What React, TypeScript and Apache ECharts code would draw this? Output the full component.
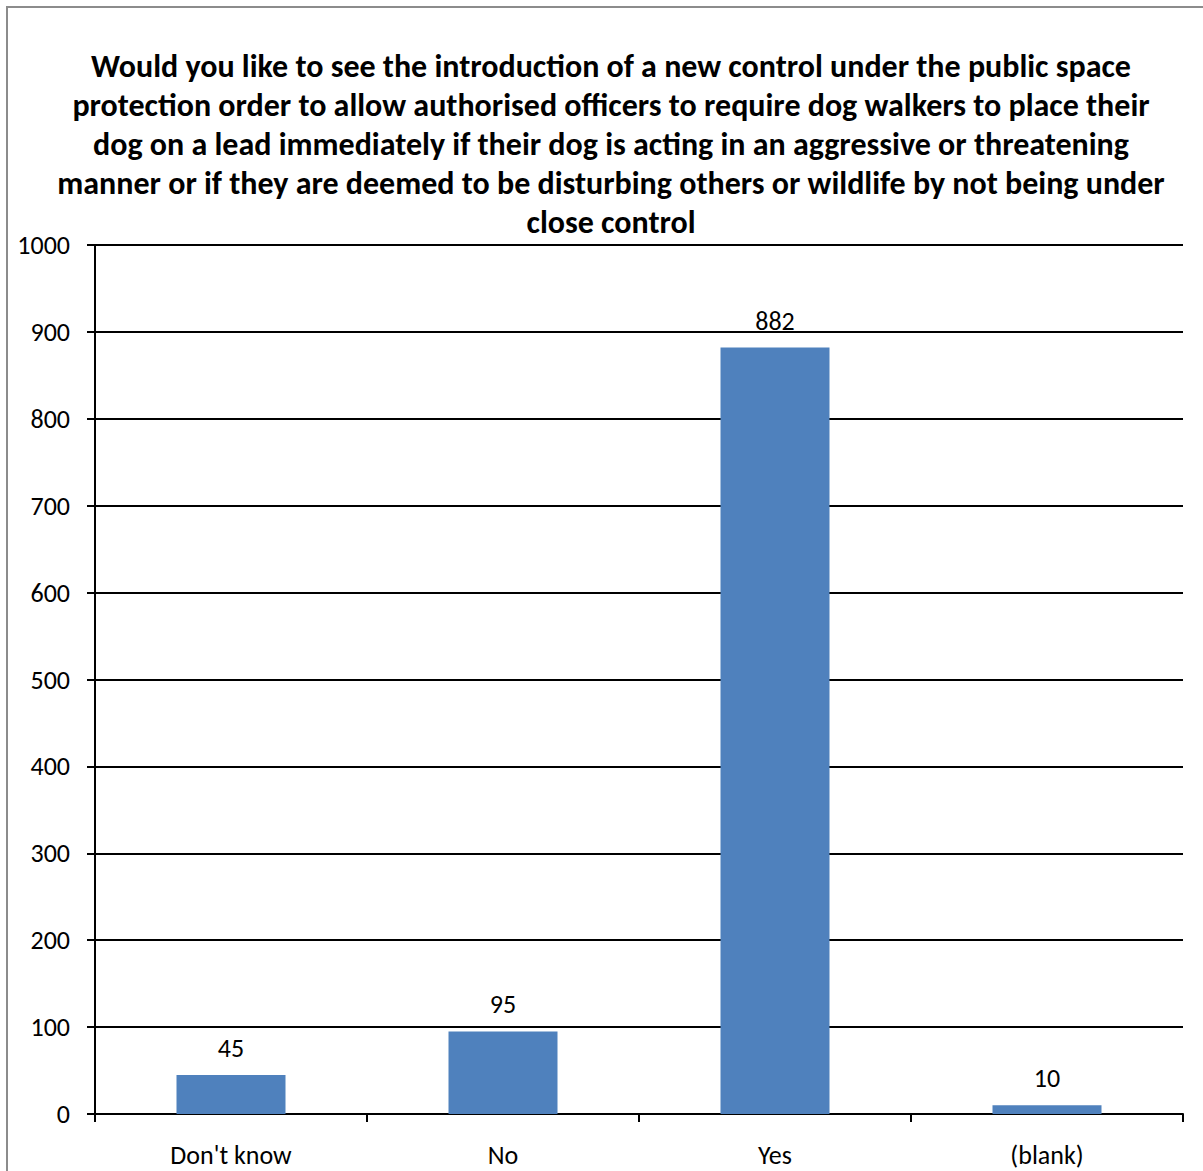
import React, { useEffect, useRef } from "react";
import * as echarts from "echarts";

const categories = ["Don't know", "No", "Yes", "(blank)"];
const values = [45, 95, 882, 10];
const yTicks = { min: 0, max: 1000, interval: 100 };
const titleLines = [
  "Would you like to see the introduction of a new control under the public space",
  "protection order to allow authorised officers to require dog walkers to place their",
  "dog on a lead immediately if their dog is acting in an aggressive or threatening",
  "manner or if they are deemed to be disturbing others or wildlife by not being under",
  "close control",
];

export default function App() {
  const ref = useRef<HTMLDivElement>(null);
  useEffect(() => {
    if (!ref.current) return;
    const chart = echarts.init(ref.current, undefined, { renderer: "svg" });
    const font = "Carlito, 'Open Sans', 'Noto Sans', sans-serif";
    chart.setOption({
      animation: false,
      backgroundColor: "#ffffff",
      textStyle: { fontFamily: font },
      title: {
        text: titleLines.join("\n"),
        left: 611,
        textAlign: "center",
        top: 47,
        padding: 0,
        textStyle: {
          fontFamily: font,
          fontWeight: "bold",
          fontSize: 32,
          lineHeight: 39,
          color: "#000000",
        },
      },
      graphic: [
        {
          type: "rect",
          shape: { x: 7, y: 7, width: 1220, height: 1200 },
          style: { fill: "none", stroke: "#8c8c8c", lineWidth: 2 },
          silent: true,
        },
      ],
      grid: { left: 95, right: 20, top: 245, bottom: 57 },
      xAxis: {
        type: "category",
        data: categories,
        axisLine: { show: true, lineStyle: { color: "#000", width: 2 } },
        axisTick: { show: true, length: 8, alignWithLabel: false, lineStyle: { color: "#000", width: 2 } },
        axisLabel: { color: "#000", fontSize: 26, margin: 28, fontFamily: font },
      },
      yAxis: {
        type: "value",
        min: yTicks.min,
        max: yTicks.max,
        interval: yTicks.interval,
        axisLine: { show: true, lineStyle: { color: "#000", width: 2 } },
        axisTick: { show: true, length: 8, lineStyle: { color: "#000", width: 2 } },
        axisLabel: {
          color: "#000",
          fontSize: 26,
          margin: 25,
          padding: [6, 0, 0, 0],
          fontFamily: font,
          formatter: (v: number) => String(v),
        },
        splitLine: { show: true, lineStyle: { color: "#000", width: 2 } },
      },
      series: [
        {
          type: "bar",
          data: values,
          barWidth: 109,
          itemStyle: { color: "#4f81bd" },
          label: {
            show: true,
            position: "top",
            distance: 14,
            color: "#000",
            fontSize: 26,
            fontFamily: font,
          },
        },
      ],
    });
    return () => chart.dispose();
  }, []);
  return (
    <div
      ref={ref}
      style={{ position: "absolute", left: 0, top: 0, width: 1203, height: 1171 }}
    />
  );
}
